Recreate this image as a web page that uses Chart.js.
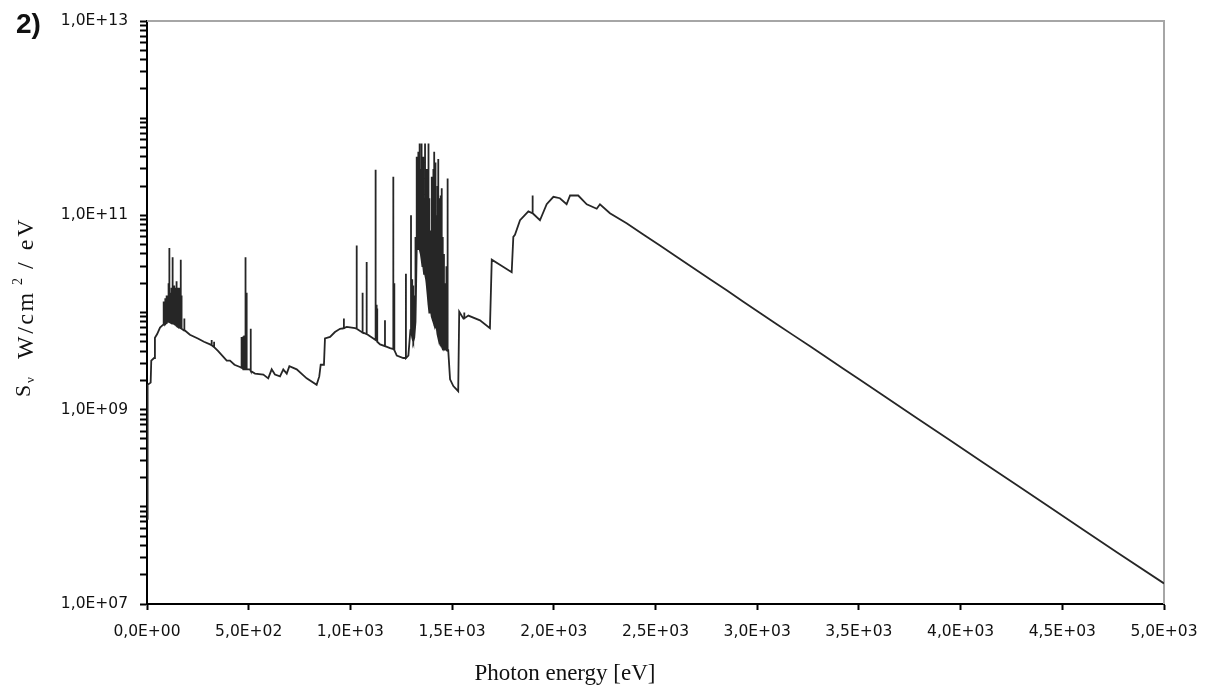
<!DOCTYPE html>
<html>
<head>
<meta charset="utf-8">
<script src="https://cdn.jsdelivr.net/npm/chart.js@4.4.1/dist/chart.umd.min.js"></script>
<style>
  html, body { margin: 0; padding: 0; background: #fff; }
  #wrap { width: 1207px; height: 693px; position: relative; }
</style>
</head>
<body>
<div id="wrap"><canvas id="chart"></canvas></div>
<script>
// continuum (photon energy in eV, S in W/cm2/eV)
const contE = [0, 3, 18, 21, 35, 39, 50, 64, 80, 97, 120, 150, 185, 211, 250, 280, 310, 350, 392, 408, 430, 457,
  473, 506, 531, 572, 596, 613, 629, 654, 670, 687, 700, 736, 785, 834, 847, 854, 870, 875, 900, 924, 949, 982,
  1023, 1063, 1113, 1146, 1195, 1228, 1260, 1285, 1295, 1481, 1490, 1506, 1530, 1535, 1555, 1580, 1637, 1686,
  1695, 1735, 1793, 1798, 1801, 1809, 1834, 1875, 1932, 1965, 1998, 2030, 2063, 2080, 2120, 2162, 2211, 2227,
  2276, 2358, 2440, 2522, 2600, 2686, 2770, 2850, 2930, 3014, 3100, 3177, 3260, 3342, 3420, 3505, 3620, 3784,
  3948, 4112, 4276, 4439, 4603, 4768, 5000]
const contS = [7.5e7, 1.8e9, 1.9e9, 3.2e9, 3.4e9, 5.5e9, 6.0e9, 7.0e9, 7.5e9, 8.0e9, 7.8e9, 7.3e9, 6.6e9, 5.9e9,
  5.4e9, 5.0e9, 4.7e9, 4.0e9, 3.2e9, 3.2e9, 2.9e9, 2.75e9,
  2.6e9, 2.6e9, 2.35e9, 2.3e9, 2.1e9, 2.6e9, 2.3e9, 2.2e9, 2.6e9, 2.35e9, 2.8e9, 2.6e9, 2.1e9, 1.8e9, 2.2e9,
  2.9e9, 2.9e9, 5.4e9, 5.6e9, 6.3e9, 6.8e9, 7.1e9,
  6.9e9, 6.2e9, 5.4e9, 4.7e9, 4.3e9, 3.6e9, 3.4e9, 3.6e9, 6.6e9, 4.1e9, 2.05e9, 1.75e9, 1.55e9, 1.02e10, 8.7e9,
  9.3e9, 8.3e9, 6.9e9,
  3.5e10, 3.1e10, 2.6e10, 4.4e10, 6.0e10, 6.3e10, 8.9e10, 1.1e11, 8.9e10, 1.3e11, 1.55e11, 1.5e11, 1.3e11,
  1.6e11, 1.6e11, 1.3e11, 1.17e11, 1.3e11,
  1.05e11, 8.3e10, 6.35e10, 4.9e10, 3.8e10, 2.87e10, 2.19e10, 1.69e10, 1.3e10, 9.9e9, 7.5e9, 5.85e9, 4.5e9, 3.45e9,
  2.67e9, 2.03e9, 1.4e9, 8.2e8,
  4.84e8, 2.85e8, 1.68e8, 9.9e7, 5.8e7, 3.4e7, 1.63e7]

// emission lines: energy, foot and top of each spike
const lineE = [82, 86, 90, 94, 98, 102, 106, 110, 114, 118, 122, 126, 130, 134, 138, 143, 147, 152, 156, 160, 166,
  170, 183, 318, 330, 465, 470, 474, 478, 482, 486, 490, 510, 968, 1031, 1060, 1080, 1124, 1129, 1132, 1170, 1211,
  1216, 1273,
  1298, 1304, 1309, 1314, 1320, 1326, 1330, 1334, 1338, 1342, 1346, 1350, 1354, 1358, 1362, 1367, 1372, 1376,
  1380, 1384, 1388, 1392, 1396, 1400, 1404, 1408, 1412, 1416, 1420, 1424, 1428, 1432, 1436, 1440, 1444, 1449,
  1454, 1460, 1466, 1472, 1478, 1560, 1896]
const lineLo = [7.5e9, 7.6e9, 7.6e9, 7.8e9, 8e9, 8e9, 8e9, 8e9, 7.9e9, 7.9e9, 7.8e9, 7.8e9, 7.7e9, 7.6e9, 7.5e9,
  7.4e9, 7.3e9, 7.2e9, 7.1e9, 7.0e9, 6.9e9,
  6.8e9, 6.5e9, 4.6e9, 4.4e9, 2.7e9, 2.7e9, 2.6e9, 2.6e9, 2.6e9, 2.6e9, 2.6e9, 2.5e9, 6.9e9, 6.8e9, 6.2e9, 6e9,
  5.2e9, 6e9, 5e9, 4.5e9, 4.2e9,
  4.1e9, 3.4e9,
  6.6e9, 5.5e9, 5e9, 5.5e9, 8e9, 4.5e10, 4.5e10, 5e10, 4.5e10, 4.5e10, 4e10, 3.5e10, 3e10, 3e10, 2.5e10, 2.5e10,
  2.2e10, 2e10,
  1.5e10, 1.2e10, 1e10, 1e10, 1.1e10, 9e9, 8.5e9, 8e9, 7.5e9, 7.5e9, 7e9, 7e9, 6e9, 5.5e9, 5.2e9, 5e9, 4.8e9,
  4.5e9,
  4.3e9, 4.2e9, 4.2e9, 4.1e9, 4.1e9, 8.7e9, 1.05e11]
const lineHi = [1.3e10, 1.3e10, 1.4e10, 1.4e10, 1.5e10, 1.5e10, 2e10, 4.6e10, 1.6e10, 1.7e10, 1.8e10, 3.7e10,
  1.8e10, 1.9e10, 1.8e10, 2.1e10, 1.9e10, 1.8e10, 1.7e10, 1.8e10, 3.5e10,
  1.5e10, 8.7e9, 5.2e9, 5e9, 5.6e9, 5.6e9, 5.7e9, 5.8e9, 3.7e10, 6e9, 1.6e10, 6.8e9, 8.7e9, 4.9e10, 1.6e10, 3.3e10,
  2.95e11, 1.2e10, 1.1e10, 8.3e9, 2.5e11,
  2e10, 2.5e10,
  1.0e11, 2.2e10, 1.9e10, 1.5e10, 6e10, 4e11, 2.5e11, 4.5e11, 5.5e11, 5.5e11, 3e11, 5.5e11, 2e11, 4e11, 1.5e11,
  5.5e11, 3e11, 1.2e11,
  3e11, 5.5e11, 1.5e11, 7e10, 4e10, 2.5e11, 1.2e11, 3e11, 4.5e11, 2e11, 3.5e11, 1e11, 2e11, 3.8e11, 1.5e11, 1e11,
  1.6e11, 1.9e11,
  6e10, 4e10, 2e10, 3e10, 2.4e11, 1e10, 1.6e11]

const xTicks = [0, 500, 1000, 1500, 2000, 2500, 3000, 3500, 4000, 4500, 5000]
const yLabelled = [1e7, 1e9, 1e11, 1e13]

const points = contE.map((e, i) => ({ x: e, y: contS[i] }))
lineE.forEach((e, i) => {
  points.push({ x: e, y: lineLo[i] }, { x: e, y: lineHi[i] }, { x: e, y: lineLo[i] })
})
points.sort((a, b) => a.x - b.x)

// log ticks 1..9 x 10^n
const yTicks = []
for (let p = 7; p < 13; p++) {
  for (let m = 1; m < 10; m++) yTicks.push(m * Math.pow(10, p))
}
yTicks.push(1e13)

function sci(v) {
  const [m, e] = Number(v).toExponential(1).split('e')
  const n = parseInt(e, 10)
  return m.replace('.', ',') + 'E' + (n < 0 ? '-' : '+') + String(Math.abs(n)).padStart(2, '0')
}

const tickFont = { family: '"DejaVu Sans", Verdana, sans-serif', size: 15.5 }
const serif = '"Liberation Serif", "Times New Roman", serif'

const decorations = {
  id: 'decorations',
  beforeDatasetsDraw(chart) {
    const { ctx, chartArea: a } = chart
    ctx.save()
    ctx.strokeStyle = '#a6a6a6'
    ctx.lineWidth = 2
    ctx.beginPath()
    ctx.moveTo(a.left, a.top)
    ctx.lineTo(a.right, a.top)
    ctx.lineTo(a.right, a.bottom)
    ctx.stroke()
    ctx.restore()
  },
  afterDraw(chart) {
    const { ctx } = chart
    ctx.save()
    ctx.fillStyle = '#111'

    // panel label
    ctx.font = 'bold 28px "Liberation Sans", Arial, sans-serif'
    ctx.textBaseline = 'alphabetic'
    ctx.fillText('2)', 16, 33)

    // x title
    ctx.font = '23px ' + serif
    ctx.textAlign = 'center'
    ctx.fillText('Photon energy [eV]', 565, 680)

    // y title, rotated
    ctx.textAlign = 'left'
    ctx.translate(33, 397)
    ctx.rotate(-Math.PI / 2)
    ctx.font = '22px ' + serif
    ctx.fillText('S', 0, -3)
    ctx.font = '13px ' + serif
    ctx.fillText('\u03bd', 14, 1)
    ctx.font = '24px ' + serif
    ctx.letterSpacing = '2.5px'
    ctx.fillText('W/cm', 38, 0)
    ctx.letterSpacing = '0px'
    ctx.font = '14px ' + serif
    ctx.fillText('2', 112, -11)
    ctx.font = '24px ' + serif
    ctx.letterSpacing = '3px'
    ctx.fillText('/ eV', 128, 0)
    ctx.restore()
  }
}

new Chart(document.getElementById('chart'), {
  type: 'line',
  data: {
    datasets: [{
      data: points,
      borderColor: '#262626',
      borderWidth: 1.8,
      pointRadius: 0,
      tension: 0,
      fill: false
    }]
  },
  options: {
    responsive: true,
    maintainAspectRatio: false,
    animation: false,
    parsing: false,
    layout: { padding: { top: 21, right: 43, left: 0, bottom: 0 } },
    plugins: {
      legend: { display: false },
      tooltip: { enabled: false }
    },
    scales: {
      x: {
        type: 'linear',
        min: 0,
        max: 5000,
        afterBuildTicks: s => { s.ticks = xTicks.map(v => ({ value: v })) },
        afterFit: s => {
          s.height = 89
          s.paddingLeft = 0
          s.paddingRight = 0
        },
        ticks: {
          callback: v => sci(v),
          font: tickFont,
          color: '#111',
          padding: 13,
          maxRotation: 0,
          autoSkip: false
        },
        grid: { drawOnChartArea: false, tickLength: 6, tickColor: '#000', tickWidth: 2 },
        border: { color: '#000', width: 2 }
      },
      y: {
        type: 'logarithmic',
        min: 1e7,
        max: 1e13,
        afterBuildTicks: s => { s.ticks = yTicks.map(v => ({ value: v })) },
        afterFit: s => {
          s.width = 147
          s.paddingTop = 0
          s.paddingBottom = 0
        },
        ticks: {
          callback: v => yLabelled.some(l => Math.abs(Math.log10(v) - Math.log10(l)) < 1e-9) ? sci(v) : '',
          font: tickFont,
          color: '#111',
          padding: 12,
          autoSkip: false
        },
        grid: { drawOnChartArea: false, tickLength: 7, tickColor: '#000', tickWidth: 2 },
        border: { color: '#000', width: 2 }
      }
    }
  },
  plugins: [decorations]
})
</script>
</body>
</html>
